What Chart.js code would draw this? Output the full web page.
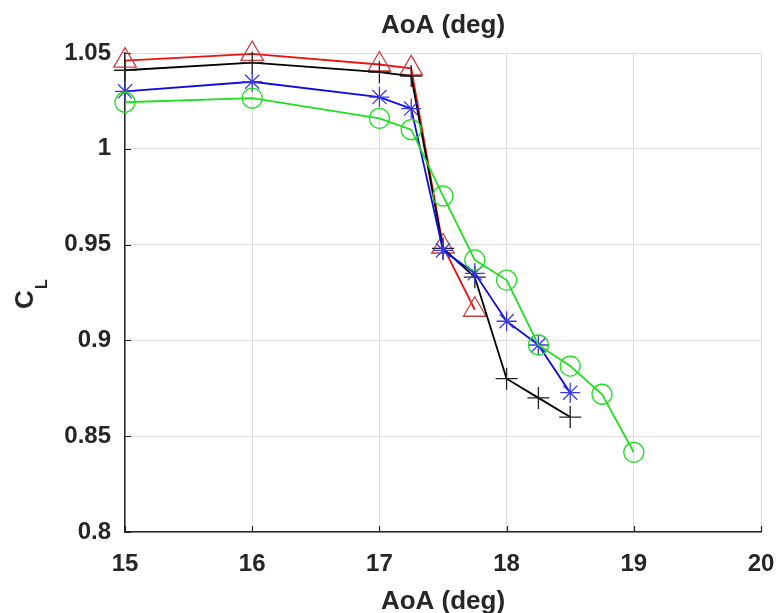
<!DOCTYPE html>
<html>
<head>
<meta charset="utf-8">
<script src="https://cdn.jsdelivr.net/npm/chart.js@4"></script>
<style>
  html, body { margin: 0; padding: 0; background: #fff; }
  #wrap { width: 779px; height: 613px; }
</style>
</head>
<body>
<div id="wrap"><canvas id="clChart" width="779" height="613"></canvas></div>
<script>
  // Lift coefficient vs angle of attack, four cases
  const AOA_RED   = [15, 16, 17, 17.25, 17.5, 17.75];
  const CL_RED    = [1.046, 1.0495, 1.044, 1.042, 0.949, 0.916];

  const AOA_BLACK = [15, 16, 17, 17.25, 17.5, 17.75, 18, 18.25, 18.5];
  const CL_BLACK  = [1.041, 1.045, 1.040, 1.038, 0.948, 0.933, 0.880, 0.870, 0.860];

  const AOA_BLUE  = [15, 16, 17, 17.25, 17.5, 17.75, 18, 18.25, 18.5];
  const CL_BLUE   = [1.030, 1.035, 1.027, 1.021, 0.947, 0.935, 0.910, 0.8976, 0.8727];

  const AOA_GREEN = [15, 16, 17, 17.25, 17.5, 17.75, 18, 18.25, 18.5, 18.75, 19];
  const CL_GREEN  = [1.0243, 1.0264, 1.0159, 1.010, 0.9754, 0.942, 0.9315, 0.8976, 0.8866, 0.8719, 0.8416];

  const X_TICKS = [15, 16, 17, 18, 19, 20];
  const Y_TICKS = [0.8, 0.85, 0.9, 0.95, 1, 1.05];
  const Y_TICK_LABELS = ["0.8", "0.85", "0.9", "0.95", "1", "1.05"];

  const FONT = "'Liberation Sans', Arial, sans-serif";
  const TEXT = "#262626";

  const pts = (xs, ys) => xs.map((x, i) => ({ x, y: ys[i] }));

  function series(xs, ys, line, marker, style, radius) {
    return {
      data: pts(xs, ys),
      borderColor: line,
      borderWidth: 1.8,
      pointStyle: style,
      pointRadius: radius,
      pointBorderColor: marker,
      pointBackgroundColor: "rgba(0,0,0,0)",
      pointBorderWidth: 1.3,
      pointHoverRadius: radius,
      showLine: true,
      tension: 0,
      fill: false,
      clip: false,
    };
  }

  // labels, title and inward tick marks
  const decor = {
    id: "decor",
    beforeDatasetsDraw(chart) {
      const { ctx, chartArea: a, scales } = chart;
      ctx.save();
      ctx.strokeStyle = TEXT;
      ctx.lineWidth = 1.2;
      ctx.beginPath();
      for (const v of X_TICKS) {
        const px = Math.round(scales.x.getPixelForValue(v)) + 0.5;
        ctx.moveTo(px, a.bottom);
        ctx.lineTo(px, a.bottom - 6);
      }
      for (const v of Y_TICKS) {
        const py = Math.round(scales.y.getPixelForValue(v)) + 0.5;
        ctx.moveTo(a.left, py);
        ctx.lineTo(a.left + 6, py);
      }
      ctx.stroke();
      ctx.restore();
    },
    afterDraw(chart) {
      const { ctx, chartArea: a } = chart;
      const cx = (a.left + a.right) / 2;
      ctx.save();
      ctx.fillStyle = TEXT;
      ctx.font = `bold 26px ${FONT}`;
      ctx.textAlign = "center";
      ctx.textBaseline = "alphabetic";
      ctx.fillText("AoA (deg)", cx, 33);
      ctx.fillText("AoA (deg)", cx, 609);

      // C with subscript L, rotated
      ctx.translate(33, 309);
      ctx.rotate(-Math.PI / 2);
      ctx.textAlign = "left";
      ctx.fillText("C", 0, 0);
      ctx.font = `bold 16px ${FONT}`;
      ctx.fillText("L", 20, 14);
      ctx.restore();
    },
  };

  new Chart(document.getElementById("clChart"), {
    type: "scatter",
    data: {
      datasets: [
        series(AOA_GREEN, CL_GREEN, "#1ee01e", "#22dd22", "circle", 10),
        series(AOA_BLUE, CL_BLUE, "#0c0ce0", "#3a3ae0", "star", 10),
        series(AOA_BLACK, CL_BLACK, "#000000", "#222222", "cross", 11),
        series(AOA_RED, CL_RED, "#ee1111", "#c84040", "triangle", 13),
      ],
    },
    options: {
      responsive: false,
      animation: false,
      devicePixelRatio: 1,
      layout: { padding: { top: 53, right: 18, bottom: 0, left: 0 } },
      plugins: {
        legend: { display: false },
        title: { display: false },
        tooltip: { enabled: false },
      },
      scales: {
        x: {
          type: "linear",
          min: 15,
          max: 20,
          afterFit: (s) => { s.height = 81; s.paddingLeft = 0; s.paddingRight = 0; },
          afterBuildTicks: (s) => { s.ticks = X_TICKS.map((v) => ({ value: v })); },
          ticks: {
            color: TEXT,
            padding: 18,
            font: { family: FONT, size: 24, weight: "bold" },
            callback: (v) => String(v),
          },
          grid: { color: "#dcdcdc", lineWidth: 1, drawTicks: false },
          border: { color: TEXT, width: 1.5 },
        },
        y: {
          type: "linear",
          min: 0.8,
          max: 1.05,
          afterFit: (s) => { s.width = 125; s.paddingTop = 0; s.paddingBottom = 0; },
          afterBuildTicks: (s) => { s.ticks = Y_TICKS.map((v) => ({ value: v })); },
          ticks: {
            color: TEXT,
            padding: 14,
            font: { family: FONT, size: 24, weight: "bold" },
            callback: (v) => Y_TICK_LABELS[Y_TICKS.findIndex((t) => Math.abs(t - v) < 1e-9)] ?? "",
          },
          grid: { color: "#dcdcdc", lineWidth: 1, drawTicks: false },
          border: { color: TEXT, width: 1.5 },
        },
      },
    },
    plugins: [decor],
  });
</script>
</body>
</html>
